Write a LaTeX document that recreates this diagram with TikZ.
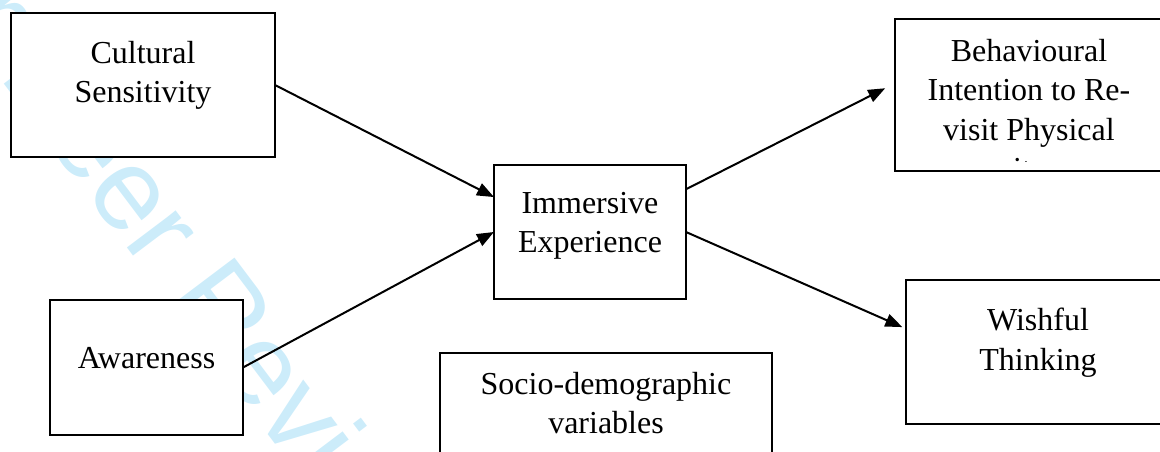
\documentclass[tikz,border=0pt]{standalone}
\usepackage{fontspec}
\setmainfont{Liberation Serif}
\newfontfamily\stampfont{Liberation Sans}
\usetikzlibrary{arrows.meta,positioning}
\definecolor{stampcyan}{RGB}{204,236,250}
\tikzset{
	box/.style={
		rectangle, draw, line width=2.6pt,
		fill=white, inner sep=0pt, outer sep=0pt,
	},
	txt/.style={
		align=center, inner sep=0pt,
		font=\fontsize{32}{39.5}\selectfont,
	},
	line/.style={
		draw, line width=2pt, -{Triangle[length=17pt,width=13pt]},
	},
	stamp/.style={
		text=stampcyan, inner sep=0pt,
		font=\stampfont\fontsize{116}{116}\selectfont,
	}
}

\begin{document}
\begin{tikzpicture}[x=1pt, y=-1pt]
	\useasboundingbox (0,0) rectangle (1160,452);
	% Watermark
	\node[stamp, rotate=-53, anchor=base west] (stamp) at (-126,-88) {For Peer Review};
	% Boxes
	\node[box, minimum width=264pt, minimum height=144pt] (cult) at (143,85) {};
	\node[box, minimum width=193pt, minimum height=135pt] (aware) at (146.5,367.5) {};
	\node[box, minimum width=192pt, minimum height=134pt] (imm) at (590,232) {};
	\node[box, minimum width=268pt, minimum height=152pt] (beh) at (1029,95) {};
	\node[box, minimum width=264pt, minimum height=144pt] (wish) at (1038,352) {};
	\node[box, minimum width=332pt, minimum height=140pt] (socio) at (606,423) {};
	% Texts
	\node[txt, below=28pt of cult.north] (cult-t) {Cultural\\Sensitivity};
	\node[txt, below=47pt of aware.north] (aware-t) {Awareness};
	\node[txt, below=27pt of imm.north] (imm-t) {Immersive\\Experience};
	\node[txt, below=28pt of wish.north] (wish-t) {Wishful\\Thinking};
	\node[txt, below=19pt of socio.north] (socio-t) {Socio-demographic\\variables};
	\begin{scope}
		\clip (beh.north west) rectangle ([yshift=9.5pt]beh.south east);
		\node[txt, below=20pt of beh.north] (beh-t) {Behavioural\\Intention to Re-\\visit Physical\\sites};
	\end{scope}
	% Arrows
	\draw[line] (cult.east) -- (imm.160);
	\draw[line] (aware.east) -- (imm.west);
	\draw[line, shorten >=11pt] (imm.24) -- (beh.175);
	\draw[line, shorten >=4pt] (imm.east) -- (wish.170);
\end{tikzpicture}
\end{document}
